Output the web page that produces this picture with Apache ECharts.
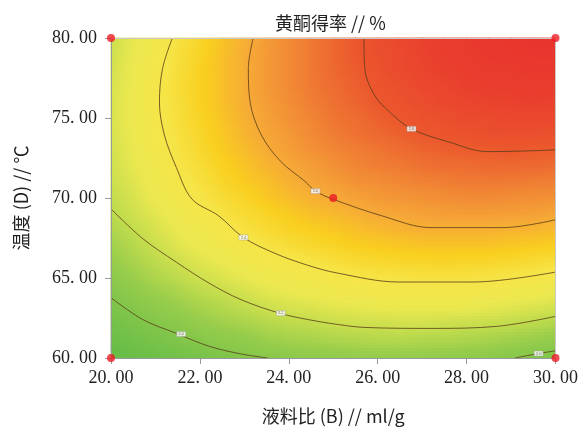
<!DOCTYPE html>
<html><head><meta charset="utf-8">
<script src="https://cdn.jsdelivr.net/npm/echarts@6/dist/echarts.min.js"></script>
<style>html,body{margin:0;padding:0;background:#fff}#c{width:581px;height:430px}</style>
</head><body><div id="c"></div>
<script>
// grid of response values (黄酮得率 %)
const xValues = [20,20.5,21,21.5,22,22.5,23,23.5,24,24.5,25,25.5,26,26.5,27,27.5,28,28.5,29,29.5,30];
const yValues = [60,61,62,63,64,65,66,67,68,69,70,71,72,73,74,75,76,77,78,79,80];
const zRows = [
 [1.82,1.86,1.89,1.93,1.96,1.99,2.01,2.03,2.05,2.06,2.07,2.08,2.08,2.08,2.08,2.07,2.06,2.05,2.03,2.01,1.99],
 [1.87,1.91,1.95,1.99,2.02,2.05,2.07,2.10,2.12,2.13,2.14,2.15,2.16,2.16,2.15,2.15,2.14,2.13,2.11,2.09,2.07],
 [1.92,1.97,2.01,2.04,2.08,2.11,2.13,2.16,2.18,2.19,2.21,2.22,2.22,2.23,2.23,2.22,2.21,2.20,2.19,2.17,2.15],
 [1.97,2.01,2.06,2.09,2.13,2.16,2.19,2.22,2.24,2.25,2.27,2.28,2.29,2.29,2.29,2.29,2.29,2.28,2.26,2.25,2.23],
 [2.01,2.06,2.10,2.14,2.18,2.21,2.24,2.27,2.29,2.31,2.33,2.34,2.35,2.36,2.36,2.36,2.35,2.34,2.33,2.32,2.30],
 [2.05,2.10,2.15,2.19,2.23,2.26,2.29,2.32,2.34,2.36,2.38,2.40,2.41,2.41,2.42,2.42,2.42,2.41,2.40,2.39,2.37],
 [2.09,2.14,2.19,2.23,2.27,2.30,2.34,2.37,2.39,2.41,2.43,2.45,2.46,2.47,2.47,2.48,2.47,2.47,2.46,2.45,2.43],
 [2.12,2.17,2.22,2.27,2.31,2.34,2.38,2.41,2.44,2.46,2.48,2.50,2.51,2.52,2.53,2.53,2.53,2.53,2.52,2.51,2.50],
 [2.15,2.20,2.25,2.30,2.34,2.38,2.42,2.45,2.48,2.50,2.52,2.54,2.56,2.57,2.58,2.58,2.58,2.58,2.57,2.57,2.55],
 [2.18,2.23,2.28,2.33,2.37,2.41,2.45,2.48,2.51,2.54,2.56,2.58,2.60,2.61,2.62,2.63,2.63,2.63,2.63,2.62,2.61],
 [2.20,2.25,2.31,2.35,2.40,2.44,2.48,2.52,2.55,2.58,2.60,2.62,2.64,2.65,2.66,2.67,2.68,2.68,2.67,2.67,2.66],
 [2.22,2.27,2.33,2.38,2.42,2.47,2.51,2.54,2.58,2.61,2.63,2.66,2.67,2.69,2.70,2.71,2.72,2.72,2.72,2.71,2.71],
 [2.23,2.29,2.34,2.40,2.44,2.49,2.53,2.57,2.60,2.63,2.66,2.69,2.71,2.72,2.74,2.75,2.75,2.76,2.76,2.76,2.75],
 [2.24,2.30,2.36,2.41,2.46,2.51,2.55,2.59,2.63,2.66,2.69,2.71,2.73,2.75,2.77,2.78,2.79,2.79,2.80,2.79,2.79],
 [2.25,2.31,2.37,2.42,2.47,2.52,2.57,2.61,2.64,2.68,2.71,2.74,2.76,2.78,2.80,2.81,2.82,2.83,2.83,2.83,2.82],
 [2.25,2.32,2.37,2.43,2.48,2.53,2.58,2.62,2.66,2.69,2.73,2.75,2.78,2.80,2.82,2.83,2.85,2.85,2.86,2.86,2.86],
 [2.25,2.32,2.38,2.43,2.49,2.54,2.59,2.63,2.67,2.71,2.74,2.77,2.80,2.82,2.84,2.86,2.87,2.88,2.88,2.89,2.88],
 [2.25,2.31,2.38,2.44,2.49,2.54,2.59,2.64,2.68,2.72,2.75,2.78,2.81,2.83,2.86,2.87,2.89,2.90,2.91,2.91,2.91],
 [2.24,2.31,2.37,2.43,2.49,2.54,2.59,2.64,2.68,2.72,2.76,2.79,2.82,2.85,2.87,2.89,2.90,2.92,2.92,2.93,2.93],
 [2.23,2.30,2.36,2.43,2.48,2.54,2.59,2.64,2.68,2.72,2.76,2.80,2.83,2.85,2.88,2.90,2.92,2.93,2.94,2.95,2.95],
 [2.22,2.29,2.35,2.41,2.47,2.53,2.58,2.63,2.68,2.72,2.76,2.80,2.83,2.86,2.88,2.91,2.92,2.94,2.95,2.96,2.96]
];
// contour levels and traced contour lines [x, y]
const contourLevels = [2.0, 2.2, 2.4, 2.6, 2.8];
const contour1a = [[20,63.77],[20.71,62.41],[21.47,61.54],[22.2,60.74],[22.93,60.25],[23.53,60]];
const contour1b = [[29.09,60],[29.62,60.28],[30,60.45]];
const contour2 = [[20,69.32],[20.71,67.47],[21.47,65.99],[22.2,64.69],[22.93,63.64],[23.82,62.78],[24.42,62.41],[25.09,62.1],[25.71,61.91],[27.2,61.85],[28.69,61.98],[30,62.6]];
const contour3 = [[21.38,80],[21.16,78.09],[21.09,75.99],[21.2,73.95],[21.47,71.91],[21.82,69.94],[22.42,68.89],[22.98,67.53],[23.69,66.54],[24.42,65.8],[25.09,65.31],[26.47,64.75],[28.16,64.75],[30,65.37]];
const contour4 = [[23.2,80],[23.09,78.09],[23.13,75.99],[23.38,73.95],[23.82,72.28],[24.36,71.05],[24.6,70.43],[24.98,69.94],[26.09,68.89],[27.2,68.15],[28.82,68.15],[30,68.64]];
const contour5 = [[25.69,80],[25.71,78.09],[25.93,76.42],[26.27,75.37],[26.76,74.32],[27.58,73.52],[28.47,72.9],[29.58,72.96],[30,73.02]];
// contour label anchors [x, y, level]
const contourLabels = [[21.58,61.5,2.0],[29.62,60.28,2.0],[23.82,62.8,2.2],[22.98,67.53,2.4],[24.6,70.43,2.6],[26.76,74.32,2.8]];
// design points
const designPoints = [[20,60],[20,80],[30,60],[30,80],[25,70]];
const xTicks = {min:20, max:30, step:2};
const yTicks = {min:60, max:80, step:5};
const palette = ['#62bb47','#6fc048','#80c54a','#98cd4b','#c2dc4d','#ebe84f','#f6e548','#f9cf1f','#f6a937','#f08234','#eb572d','#e93d2e','#e8302f'];
const colorRange = [1.8, 3.0];

const surface = [];
zRows.forEach((row, j) => row.forEach((z, i) => surface.push([xValues[i], yValues[j], z])));
const colorOf = z => echarts.color.lerp(Math.max(0, Math.min(1, (z - colorRange[0]) / (colorRange[1] - colorRange[0]))), palette);

const chart = echarts.init(document.getElementById('c'), null, {renderer:'canvas'});
const numFmt = v => v.toFixed(2).replace('.', '. ');
const labelFont = {fontFamily:'Liberation Serif', fontSize:18, color:'#222'};
const lineStyle = {color:'rgba(90,60,25,0.8)', width:1};
function contourSeries(data){
  return {type:'line', data, smooth:0.35, showSymbol:false, symbol:'none', lineStyle, z:5, silent:true, clip:true};
}
chart.setOption({
  animation:false,
  title:{text:'黄酮得率 // %', left:270, top:9, textStyle:{fontFamily:'Noto Sans CJK SC', fontSize:18, fontWeight:'normal', color:'#222'}},
  grid:{left:111, right:20, top:38, bottom:68, show:false},
  xAxis:[{type:'value', min:xTicks.min, max:xTicks.max, interval:xTicks.step, z:10,
    axisLine:{show:true, onZero:false, lineStyle:{color:'#999'}},
    axisTick:{show:true, length:6, lineStyle:{color:'#999'}},
    axisLabel:Object.assign({margin:11, formatter:numFmt}, labelFont),
    splitLine:{show:false},
    name:'液料比 (B) // ml/g', nameLocation:'middle', nameGap:49,
    nameTextStyle:{fontFamily:'Noto Sans CJK SC', fontSize:18, color:'#222'}},
   {type:'value', position:'top', min:xTicks.min, max:xTicks.max, z:10,
    axisLine:{show:true, onZero:false, lineStyle:{color:'#c8c8c8'}}, axisTick:{show:false}, axisLabel:{show:false}, splitLine:{show:false}}],
  yAxis:[{type:'value', min:yTicks.min, max:yTicks.max, interval:yTicks.step, z:10,
    axisLine:{show:true, onZero:false, lineStyle:{color:'#999'}},
    axisTick:{show:true, length:6, lineStyle:{color:'#999'}},
    axisLabel:Object.assign({margin:14, formatter:numFmt}, labelFont),
    splitLine:{show:false},
    name:'温度 (D) // ℃', nameLocation:'middle', nameGap:81,
    nameTextStyle:{fontFamily:'Noto Sans CJK SC', fontSize:18, color:'#222'}},
   {type:'value', position:'right', min:yTicks.min, max:yTicks.max, z:10,
    axisLine:{show:true, onZero:false, lineStyle:{color:'#c8c8c8'}}, axisTick:{show:false}, axisLabel:{show:false}, splitLine:{show:false}}],
  series:[
    {type:'custom', data:surface, z:1, silent:true,
     renderItem:function(params, api){
       const nx = xValues.length;
       const i = params.dataIndex % nx, j = Math.floor(params.dataIndex / nx);
       if (i >= nx - 1 || j >= yValues.length - 1) return null;
       const z00 = zRows[j][i], z10 = zRows[j][i+1], z01 = zRows[j+1][i], z11 = zRows[j+1][i+1];
       const pTL = api.coord([xValues[i], yValues[j+1]]);
       const pBR = api.coord([xValues[i+1], yValues[j]]);
       const S = 5, h = (pBR[1] - pTL[1]) / S, w = pBR[0] - pTL[0];
       const children = [];
       for (let k = 0; k < S; k++) {
         const t = 1 - (k + 0.5) / S;
         const zl = z00 * (1 - t) + z01 * t, zr = z10 * (1 - t) + z11 * t;
         const stops = [];
         for (let m = 0; m <= 4; m++) { const s = m / 4; stops.push({offset:s, color:colorOf(zl * (1 - s) + zr * s)}); }
         children.push({type:'rect', shape:{x:pTL[0] - 0.4, y:pTL[1] + k * h - 0.4, width:w + 0.8, height:h + 0.8},
           style:{fill:new echarts.graphic.LinearGradient(0, 0, 1, 0, stops)}});
       }
       return {type:'group', children};
     }},
    contourSeries(contour1a), contourSeries(contour1b), contourSeries(contour2),
    contourSeries(contour3), contourSeries(contour4), contourSeries(contour5),
    {type:'scatter', data:contourLabels, symbol:'rect', symbolSize:[9,5], z:12, silent:true,
     itemStyle:{color:'#fff', borderColor:'#999', borderWidth:0.5},
     label:{show:true, position:'inside', fontSize:4, color:'#555', formatter:p => p.value[2].toFixed(1)}},
    {type:'scatter', data:designPoints, symbol:'circle', symbolSize:8, clip:false, z:20, silent:true,
     itemStyle:{color:'#ec1c24'}}
  ]
});
</script></body></html>
